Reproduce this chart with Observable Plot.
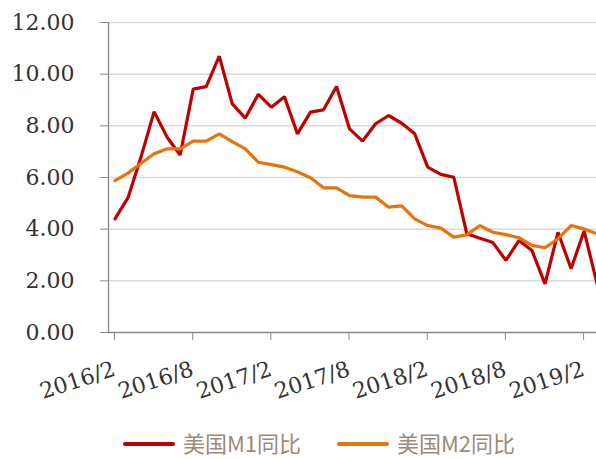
<!DOCTYPE html>
<html><head><meta charset="utf-8">
<script src="https://cdn.jsdelivr.net/npm/d3@7"></script>
<script src="https://cdn.jsdelivr.net/npm/@observablehq/plot@0.6"></script>
<style>
body{margin:0;background:#fff;width:596px;height:459px;overflow:hidden;}
#chart svg text{font-family:"DejaVu Serif","Liberation Serif",serif !important;}
#legend{position:relative;height:45px;font-family:"Noto Sans CJK SC",sans-serif;font-size:22px;color:#9b8b78;}
.item{position:absolute;top:12px;height:32px;display:flex;align-items:center;white-space:nowrap;}
.swatch{display:inline-block;width:52px;height:4px;border-radius:2px;margin-right:8px;margin-top:3px;}
.label{line-height:32px;}
</style>
</head><body>
<div id="chart"></div>
<div id="legend"></div>
<script>
const months = ["2016/2","2016/3","2016/4","2016/5","2016/6","2016/7","2016/8","2016/9","2016/10","2016/11","2016/12",
  "2017/1","2017/2","2017/3","2017/4","2017/5","2017/6","2017/7","2017/8","2017/9","2017/10","2017/11","2017/12",
  "2018/1","2018/2","2018/3","2018/4","2018/5","2018/6","2018/7","2018/8","2018/9","2018/10","2018/11","2018/12",
  "2019/1","2019/2","2019/3"];
const m1 = [4.40,5.22,6.80,8.55,7.56,6.87,9.42,9.52,10.70,8.85,8.30,9.22,8.72,9.13,7.69,8.53,8.62,9.52,7.88,7.41,8.08,8.40,
  8.10,7.69,6.40,6.12,6.01,3.82,3.65,3.48,2.79,3.56,3.17,1.88,3.88,2.47,3.93,1.88];
const m2 = [5.88,6.17,6.55,6.92,7.11,7.11,7.41,7.41,7.69,7.39,7.11,6.59,6.50,6.40,6.22,5.99,5.60,5.60,5.30,5.24,5.24,4.85,
  4.90,4.40,4.14,4.04,3.69,3.78,4.14,3.88,3.79,3.67,3.37,3.28,3.63,4.14,4.01,3.82];
const tickLabels = ["2016/2","2016/8","2017/2","2017/8","2018/2","2018/8","2019/2"];
const yTicks = [0,2,4,6,8,10,12];
const series = ["美国M1同比","美国M2同比"];
const colors = ["#C00000","#E8720C"];

const data = months.flatMap((m, i) => [
  {i, month: m, s: series[0], v: m1[i]},
  {i, month: m, s: series[1], v: m2[i]}
]);
const tickPos = tickLabels.map(l => months.indexOf(l) - 0.5);
const n = months.length;
const axisColor = "#898989";

const chart = Plot.plot({
  width: 596, height: 414,
  marginLeft: 108, marginRight: 0, marginTop: 22, marginBottom: 82,
  style: {fontFamily: "DejaVu Serif", fontSize: "22px", color: "#333", background: "#fff"},
  x: {type: "linear", domain: [-0.5, n - 0.5], range: [108, 108 + n * 13.03], label: null},
  y: {domain: [0, 12], label: null},
  color: {domain: series, range: colors},
  marks: [
    Plot.ruleY(yTicks.filter(d => d > 0), {stroke: "#d9d9d9", strokeWidth: 1.5}),
    Plot.ruleX([-0.5], {y1: 0, y2: 12, stroke: axisColor, strokeWidth: 1.3}),
    Plot.ruleY([0], {stroke: axisColor, strokeWidth: 1.3}),
    Plot.axisY({ticks: yTicks, tickFormat: d => d.toFixed(2), tickSize: 8, tickPadding: 26, label: null,
      stroke: axisColor, fill: "#333", fontSize: 22}),
    Plot.axisX({ticks: tickPos, tickFormat: d => tickLabels[tickPos.indexOf(d)], tickSize: 8, label: null,
      tickRotate: -18, tickPadding: 28, dx: 6, stroke: axisColor, fill: "#333", fontSize: 22}),
    Plot.line(data, {x: "i", y: "v", stroke: "s", z: "s", strokeWidth: 3.2, strokeLinejoin: "miter"})
  ]
});
document.getElementById("chart").append(chart);

const legend = document.getElementById("legend");
const lefts = [123, 337];
series.forEach((s, k) => {
  const it = document.createElement("div");
  it.className = "item";
  it.style.left = lefts[k] + "px";
  it.innerHTML = `<span class="swatch" style="background:${colors[k]}"></span><span class="label">${s}</span>`;
  legend.append(it);
});
</script>
</body></html>
